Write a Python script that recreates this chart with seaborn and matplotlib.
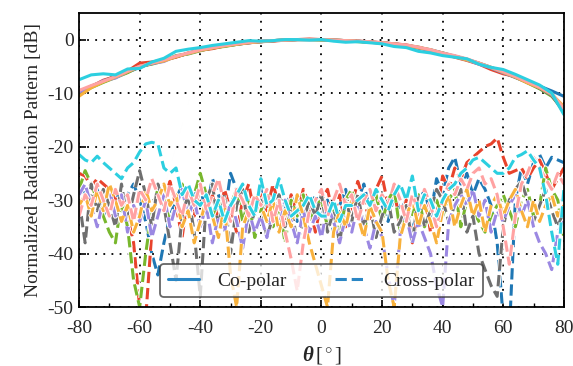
import numpy as np
import pandas as pd
import matplotlib
matplotlib.use("Agg")
import matplotlib.pyplot as plt
import matplotlib.patheffects as pe
from matplotlib.lines import Line2D
from matplotlib.ticker import MultipleLocator
import seaborn as sns

# ---------------- data ----------------
theta_co = list(range(-80, 81, 4))
theta_x = list(range(-80, 81, 2))

colors = ["#1f77b4", "#e8432c", "#78b72d", "#6f6f6f", "#9b88e2", "#f8b13c", "#ffa2a2", "#2ccfe0"]

co_blue = [-9.6, -8.9, -7.9, -7.0, -6.1, -5.2, -4.4, -3.9, -3.2, -2.6, -2.0, -1.6, -1.2, -0.9, -0.6, -0.4, -0.2, -0.1, 0.0, 0.0, 0.0,
           -0.1, -0.2, -0.3, -0.5, -0.6, -0.8, -1.1, -1.5, -1.9, -2.5, -3.1, -3.7, -4.4, -5.2, -6.0, -6.9, -7.8, -8.7, -9.6, -10.6]
co_red = [-10.0, -8.8, -7.6, -6.9, -5.9, -4.4, -4.2, -3.8, -3.3, -2.5, -2.0, -1.7, -1.2, -0.8, -0.6, -0.4, -0.3, -0.1, 0.0, 0.1, 0.0,
          -0.1, -0.2, -0.3, -0.4, -0.6, -0.8, -1.0, -1.5, -2.0, -2.6, -3.3, -3.9, -4.6, -5.6, -6.4, -6.9, -8.0, -9.0, -10.5, -12.8]
co_green = [-10.3, -9.0, -8.0, -7.1, -6.2, -5.0, -4.6, -4.0, -3.0, -2.7, -2.1, -1.5, -1.3, -0.9, -0.5, -0.4, -0.2, -0.1, 0.0, 0.0, -0.1,
            -0.1, -0.2, -0.4, -0.5, -0.6, -0.9, -1.1, -1.4, -2.0, -2.5, -3.2, -3.8, -4.5, -5.3, -6.1, -7.0, -8.1, -9.2, -10.6, -13.2]
co_grey = [-9.9, -8.7, -7.8, -6.8, -6.0, -5.1, -4.5, -3.9, -3.2, -2.6, -1.9, -1.6, -1.1, -0.9, -0.6, -0.3, -0.2, -0.1, 0.0, 0.0, 0.0,
           -0.1, -0.3, -0.3, -0.5, -0.7, -0.8, -1.2, -1.6, -2.0, -2.7, -3.1, -3.7, -4.5, -5.3, -6.2, -7.1, -8.0, -9.1, -10.4, -13.6]
co_purple = [-9.8, -8.9, -7.7, -7.2, -6.0, -5.0, -4.5, -4.1, -3.1, -2.6, -2.0, -1.5, -1.2, -0.8, -0.6, -0.4, -0.2, -0.1, 0.0, 0.0, 0.0,
             -0.1, -0.2, -0.3, -0.5, -0.6, -0.8, -1.1, -1.5, -2.1, -2.6, -3.2, -3.8, -4.6, -5.3, -6.2, -7.0, -8.0, -9.0, -10.3, -13.0]
co_orange = [-10.6, -9.0, -7.9, -7.0, -6.0, -5.1, -4.4, -4.0, -3.2, -2.6, -2.0, -1.6, -1.2, -0.9, -0.6, -0.4, -0.2, -0.1, 0.0, 0.0, 0.0,
             -0.1, -0.2, -0.3, -0.5, -0.6, -0.8, -1.1, -1.5, -1.9, -2.6, -3.2, -3.8, -4.4, -5.2, -6.1, -7.0, -8.1, -9.0, -10.2, -12.5]
co_pink = [-9.5, -8.6, -7.8, -6.9, -5.9, -5.0, -4.4, -3.8, -3.1, -2.5, -1.9, -1.5, -1.1, -0.8, -0.5, -0.3, -0.2, -0.1, 0.0, 0.0, 0.0,
           -0.1, -0.2, -0.3, -0.4, -0.6, -0.8, -1.0, -1.4, -1.9, -2.5, -3.0, -3.6, -4.4, -5.2, -6.0, -6.9, -7.9, -8.9, -10.1, -12.9]
co_cyan = [-7.5, -6.6, -6.4, -6.6, -5.5, -5.4, -4.2, -3.5, -2.2, -1.8, -1.5, -1.1, -0.8, -0.5, -0.2, -0.3, -0.2, 0.0, 0.0, -0.1, 0.0,
           -0.3, -0.5, -0.4, -0.6, -0.8, -1.3, -1.5, -2.2, -2.5, -3.0, -3.3, -3.6, -4.6, -5.2, -5.6, -6.5, -7.5, -8.5, -10.0, -14.0]

x_blue = [-27, -29, -31, -28, -33, -30, -28, -32, -29, -27,
          -30, -34, -40, -44, -38, -33, -30, -27, -31, -29,
          -28, -32, -26, -29, -33, -25, -28, -30, -34, -31,
          -28, -33, -30, -35, -31, -29, -34, -30, -32, -29,
          -33, -30, -36, -31, -28, -34, -30, -27, -32, -29,
          -31, -34, -29, -32, -30, -36, -31, -28, -33, -26,
          -29, -24, -22, -27, -25, -29, -26, -28, -31, -38,
          -52, -55, -30, -24, -27, -23, -21.5, -24, -22, -22.5,
          -23]
x_red = [-25, -25.5, -27.5, -26, -27, -28, -30, -29, -33, -38,
         -50, -52, -36, -27, -30, -26.5, -31, -37, -29, -33,
         -27, -31, -29, -34, -28, -32, -36, -30, -27, -33,
         -29, -32, -27, -31, -35, -29, -33, -28, -31, -36,
         -30, -28, -33, -29, -35, -31, -26.5, -30, -34, -28,
         -25.5, -31, -28, -35, -30, -38, -32, -29, -36, -33,
         -25.5, -28, -24, -26, -23, -22, -21, -20, -19.5, -18.4,
         -22, -25, -24.5, -24, -26, -24, -22.5, -25, -28, -26,
         -24]
x_green = [-28, -24.5, -27, -30, -33, -36, -38, -30, -35, -45,
           -50, -40, -32, -28, -30, -34, -31, -27, -33, -29,
           -25, -29, -33, -30, -36, -31, -28, -34, -30, -37,
           -32, -29, -35, -31, -38, -30, -33, -29, -34, -31,
           -30, -35, -32, -37, -30, -28, -33, -36, -31, -29,
           -34, -30, -28, -36, -31, -33, -29, -35, -32, -30,
           -33, -30, -28, -35, -30, -32, -34, -36, -33, -31,
           -29, -32, -35, -30, -28, -33, -31, -24, -28, -30,
           -37]
x_grey = [-30, -38, -27, -32, -28, -31, -35, -27, -34, -29,
          -24.5, -29, -35, -27, -31, -38, -45, -33, -29, -36,
          -48, -30, -27, -35, -29, -40, -31, -28, -36, -32,
          -30, -37, -33, -29, -35, -31, -38, -34, -30, -33,
          -29, -36, -32, -38, -30, -34, -29, -35, -31, -37,
          -33, -30, -36, -34, -31, -38, -29, -35, -32, -28,
          -30, -34, -31, -28, -36, -33, -40, -43, -46, -48,
          -35, -30, -28, -26.5, -30, -34, -31, -28, -32, -35,
          -32]
x_purple = [-29, -27, -31, -35, -30, -28, -33, -29, -36, -31,
            -34, -30, -37, -33, -29, -35, -31, -28, -33, -30,
            -35, -31, -38, -33, -36, -30, -34, -39, -32, -36,
            -33, -37, -31, -35, -30, -34, -38, -32, -36, -33,
            -37, -31, -34, -38, -33, -36, -31, -35, -39, -34,
            -37, -44, -50, -36, -33, -38, -34, -37, -40, -46,
            -50, -34, -31, -29, -31, -28, -33, -30, -36, -32,
            -34, -31, -29, -33, -30, -35, -38, -40, -43, -36,
            -34]
x_orange = [-31, -29, -33, -28, -32, -27, -30, -34, -31, -36,
            -33, -28, -32, -30, -27, -31, -29, -35, -32, -38,
            -34, -30, -33, -37, -31, -44, -50, -35, -32, -29,
            -31, -34, -30, -36, -32, -35, -29, -33, -38, -42,
            -46, -50, -36, -32, -35, -30, -33, -37, -31, -34,
            -36, -45, -50, -37, -33, -30, -35, -31, -34, -38,
            -32, -29, -35, -31, -28, -33, -30, -36, -31, -29,
            -33, -30, -28, -32, -35, -30, -34, -31, -29, -33,
            -31]
x_pink = [-33, -29, -31, -27, -30, -33, -28, -31, -29, -34,
          -28, -30, -26, -29, -32, -27, -30, -33, -28, -31,
          -27, -32, -29, -26, -31, -34, -28, -30, -33, -29,
          -31, -28, -34, -30, -36, -41, -47, -38, -32, -30,
          -28, -33, -30, -27, -31, -29, -34, -30, -28, -32,
          -29, -31, -27, -30, -34, -29, -32, -28, -31, -35,
          -30, -27, -29, -26, -28, -25, -24, -27, -26, -29,
          -35, -42, -33, -27, -25, -22, -24, -26, -28, -25,
          -27]
x_cyan = [-21.5, -22.5, -23, -21.8, -23, -24, -25, -26, -24, -23,
          -21, -19.5, -19.2, -19.5, -24, -25, -24, -29, -27, -30,
          -31, -29, -33, -30, -34, -31, -29, -27, -31, -33,
          -26, -31, -30, -26, -30, -33, -32, -31, -29, -32,
          -33, -33, -30, -34, -31, -31, -30, -29, -31, -28,
          -30, -32, -29, -27, -30, -25.5, -32, -29, -30, -33,
          -30, -28, -27, -25, -24, -22.5, -22, -23, -24, -25,
          -25, -24, -22, -21.5, -20.8, -22.5, -24, -29, -36, -42,
          -28]

co_series = [co_blue, co_red, co_green, co_grey, co_purple, co_orange, co_pink, co_cyan]
x_series = [x_blue, x_red, x_green, x_grey, x_purple, x_orange, x_pink, x_cyan]

legend_labels = ["Co-polar", "Cross-polar"]
x_ticks = [-80, -60, -40, -20, 0, 20, 40, 60, 80]
y_ticks = [-50, -40, -30, -20, -10, 0]

# ---------------- style ----------------
sns.set_theme(style="white")
plt.rcParams["font.family"] = ["Liberation Serif", "DejaVu Serif"]
plt.rcParams["mathtext.fontset"] = "custom"
plt.rcParams["mathtext.rm"] = "Liberation Serif"
plt.rcParams["mathtext.it"] = "Liberation Serif:italic"
plt.rcParams["mathtext.bf"] = "Liberation Serif:bold:italic"
plt.rcParams["axes.unicode_minus"] = False

fig = plt.figure(figsize=(5.73, 3.66), dpi=100)
ax = fig.add_axes([0.138, 0.161, 0.846, 0.804])

lw = 2.2
for vals, c in zip(x_series, colors):
    df = pd.DataFrame({"theta": theta_x, "val": vals})
    sns.lineplot(data=df, x="theta", y="val", ax=ax, color=c, linewidth=lw,
                 linestyle="--", legend=False,
                 path_effects=[pe.withStroke(linewidth=lw + 1.4, foreground="white")])
for vals, c in zip(co_series, colors):
    df = pd.DataFrame({"theta": theta_co, "val": vals})
    sns.lineplot(data=df, x="theta", y="val", ax=ax, color=c, linewidth=lw, legend=False)

ax.set_xlim(-80, 80)
ax.set_ylim(-50, 5)
ax.set_xticks(x_ticks)
ax.set_yticks(y_ticks)
ax.xaxis.set_minor_locator(MultipleLocator(10))
ax.tick_params(axis="both", which="both", direction="in", labelsize=14, color="black",
               top=False, right=False, bottom=True, left=True)
ax.tick_params(axis="x", which="both", pad=9)
ax.tick_params(axis="y", which="both", pad=4)
ax.tick_params(which="major", length=5, width=1.2)
ax.tick_params(which="minor", length=3, width=1.0)
ax.grid(True, which="major", color="black", linestyle=(0, (1, 3.5)), linewidth=1.3)
for s in ax.spines.values():
    s.set_color("black")
    s.set_linewidth(1.3)

ax.set_xlabel(r"$\mathbf{\theta}\,\mathrm{[^\circ]}$", fontsize=15, labelpad=5)
ax.set_ylabel("Normalized Radiation Pattern [dB]", fontsize=14, labelpad=4)

handles = [Line2D([0], [0], color="#2a86c4", lw=lw, linestyle="-"),
           Line2D([0], [0], color="#2a86c4", lw=lw, linestyle="--")]
leg = ax.legend(handles, legend_labels, loc="lower center", ncol=2, fontsize=14,
                frameon=True, fancybox=True, framealpha=0.75, edgecolor="#333333",
                handlelength=1.6, columnspacing=2.5, borderaxespad=0.5,
                borderpad=0.4, handletextpad=0.9)
leg.get_frame().set_linewidth(1.3)

fig.savefig("out.png", dpi=100)
